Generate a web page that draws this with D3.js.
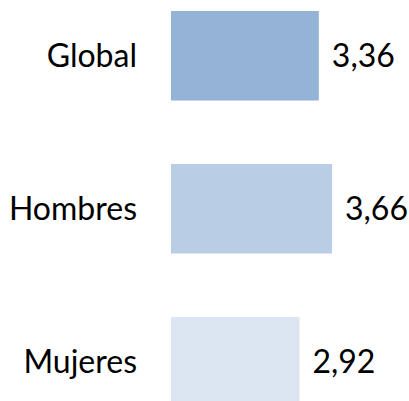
<!DOCTYPE html>
<html>
<head>
<meta charset="utf-8">
<script src="https://cdn.jsdelivr.net/npm/d3@7"></script>
<style>
  html, body { margin: 0; padding: 0; background: #fff; }
  #plot { font-family: Lato, "Open Sans", sans-serif; }
</style>
</head>
<body>
<div id="plot"></div>
<script>
// chart data
var categories = ["Global", "Hombres", "Mujeres"];
var values = [3.36, 3.66, 2.92];
var valueLabels = ["3,36", "3,66", "2,92"];
var colors = ["#95b3d7", "#b9cde5", "#dce6f2"];

var width = 409,
    height = 401;

var svg = d3.select("#plot").append("svg")
    .attr("width", width)
    .attr("height", height);

var data = categories.map(function(c, i) {
    return {cat: c, value: values[i], label: valueLabels[i], color: colors[i]};
});

// scales
var x = d3.scaleLinear()
    .domain([0, 4])
    .range([171, 171 + 4 * 44]);

var y = d3.scaleBand()
    .domain(categories)
    .range([11, 406.5])
    .paddingInner(0.415)
    .paddingOuter(0);

var fontSize = 32;

// bars
svg.selectAll(".bar")
    .data(data)
  .enter().append("rect")
    .attr("class", "bar")
    .attr("x", x(0))
    .attr("y", function(d) { return y(d.cat); })
    .attr("width", function(d) { return x(d.value) - x(0); })
    .attr("height", y.bandwidth())
    .style("fill", function(d) { return d.color; });

// category labels
svg.selectAll(".cat-label")
    .data(data)
  .enter().append("text")
    .attr("class", "cat-label")
    .attr("x", 137)
    .attr("y", function(d) { return y(d.cat) + y.bandwidth() / 2 + 11; })
    .attr("text-anchor", "end")
    .style("font-size", fontSize + "px")
    .style("fill", "#000")
    .text(function(d) { return d.cat; });

// value labels
svg.selectAll(".val-label")
    .data(data)
  .enter().append("text")
    .attr("class", "val-label")
    .attr("x", function(d) { return x(d.value) + 13; })
    .attr("y", function(d) { return y(d.cat) + y.bandwidth() / 2 + 11; })
    .style("font-size", fontSize + "px")
    .style("fill", "#000")
    .text(function(d) { return d.label; });
</script>
</body>
</html>
